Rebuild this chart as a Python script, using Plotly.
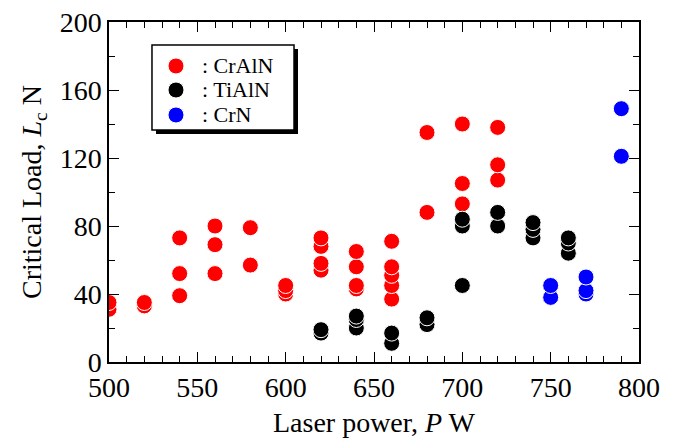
import plotly.graph_objects as go

crain_x = [500, 500, 520, 520, 540, 540, 540, 560, 560, 560, 580, 580,
           600, 600, 600, 620, 620, 620, 620, 640, 640, 640, 640,
           660, 660, 660, 660, 660, 680, 680, 700, 700, 700, 720, 720, 720]
crain_y = [31, 35, 33, 35, 39, 52, 73, 52, 69, 80, 57, 79,
           40, 42, 45, 54, 58, 68, 73, 43, 45, 56, 65,
           37, 45, 51, 56, 71, 88, 135, 93, 105, 140, 107, 116, 138]

tialn_x = [620, 620, 640, 640, 640, 660, 660, 680, 680, 700, 700, 700,
           720, 720, 740, 740, 740, 760, 760, 760]
tialn_y = [17, 19, 20, 25, 27, 11, 17, 22, 26, 45, 80, 84,
           80, 88, 73, 78, 82, 64, 70, 73]

crn_x = [750, 750, 770, 770, 770, 790, 790]
crn_y = [38, 45, 40, 42, 50, 121, 149]

series_names = ["CrAlN", "TiAlN", "CrN"]
series_colors = ["#ff0000", "#000000", "#0000ff"]

FONT = "Liberation Serif"

fig = go.Figure()
for name, xs, ys, col in zip(series_names, [crain_x, tialn_x, crn_x],
                             [crain_y, tialn_y, crn_y], series_colors):
    fig.add_trace(go.Scatter(x=xs, y=ys, mode="markers", name=name, showlegend=False,
                             marker=dict(size=16, color=col,
                                         line=dict(color="white", width=1))))

axis_common = dict(showline=True, linecolor="black", linewidth=1.5, mirror="allticks",
                   ticks="inside", ticklen=10, tickwidth=1.2, tickcolor="black",
                   showgrid=False, zeroline=False, automargin=False,
                   ticklabeloverflow="allow",
                   tickfont=dict(family=FONT, size=28, color="black"),
                   title_font=dict(family=FONT, size=28, color="black"))

fig.update_xaxes(range=[500, 800], tick0=500, dtick=50,
                 minor=dict(ticks="inside", ticklen=6, dtick=10, tickcolor="black", tickwidth=1),
                 title_text="Laser power, <i>P</i> W", title_standoff=10, **axis_common)
fig.update_yaxes(range=[0, 200], tick0=0, dtick=40,
                 minor=dict(ticks="inside", ticklen=6, dtick=20, tickcolor="black", tickwidth=1),
                 title_text="Critical Load, <i>L</i><sub>c</sub> N", title_standoff=10, **axis_common)

# legend box drawn in paper coordinates (shadow + framed box + symbols + labels)
shapes = [
    dict(type="rect", xref="paper", yref="paper", x0=0.0887, x1=0.3566, y0=0.6706, y1=0.9206,
         fillcolor="black", line=dict(width=0), layer="above"),
    dict(type="rect", xref="paper", yref="paper", x0=0.0811, x1=0.3491, y0=0.6824, y1=0.9324,
         fillcolor="white", line=dict(color="black", width=1.5), layer="above"),
]
annotations = []
row_y = [0.8706, 0.8, 0.7265]
for name, col, yy in zip(series_names, series_colors, row_y):
    shapes.append(dict(type="circle", xref="paper", yref="paper",
                       xsizemode="pixel", ysizemode="pixel",
                       xanchor=0.1264, yanchor=yy, x0=-8, x1=8, y0=-8, y1=8,
                       fillcolor=col, line=dict(color="white", width=1), layer="above"))
    annotations.append(dict(xref="paper", yref="paper", x=0.1717, y=yy,
                            xanchor="left", yanchor="middle", showarrow=False,
                            text=": " + name,
                            font=dict(family=FONT, size=22, color="black")))

fig.update_layout(
    width=667, height=434,
    margin=dict(l=101, r=36, t=14, b=80),
    plot_bgcolor="white", paper_bgcolor="white",
    font=dict(family=FONT, color="black"),
    showlegend=False,
    shapes=shapes,
    annotations=annotations,
)

fig.write_html("out.html")
